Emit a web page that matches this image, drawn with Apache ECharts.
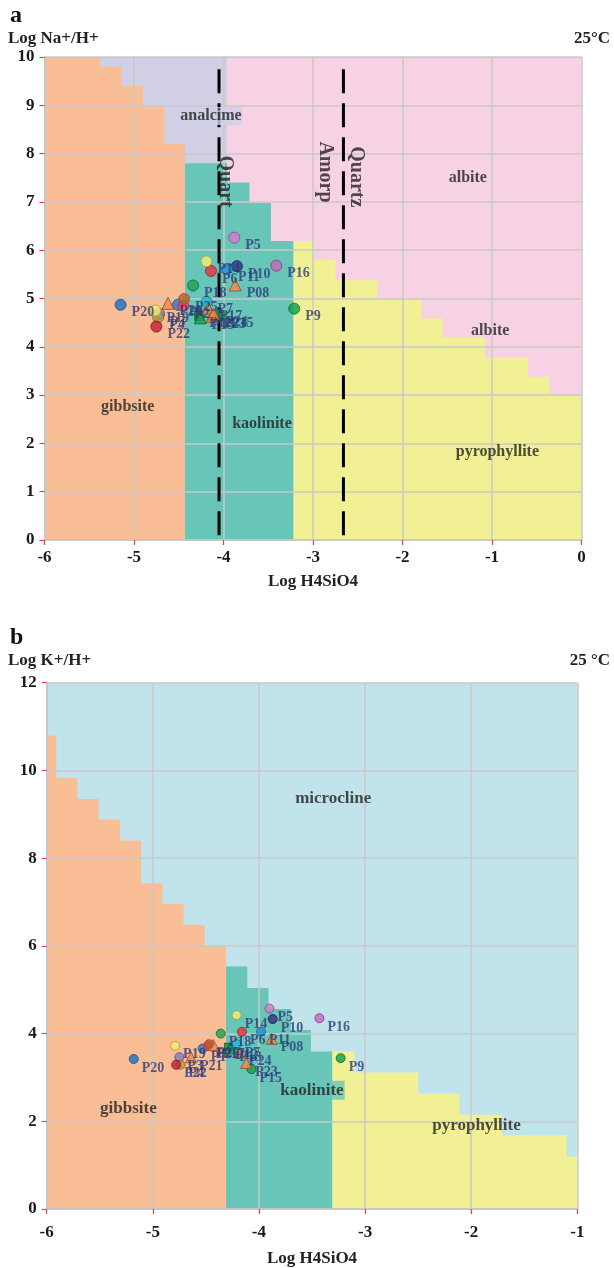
<!DOCTYPE html>
<html>
<head>
<meta charset="utf-8">
<script src="https://cdn.jsdelivr.net/npm/echarts@6/dist/echarts.min.js"></script>
<style>
  html, body { margin: 0; padding: 0; background: #ffffff; }
  #chart { width: 614px; height: 1268px; }
</style>
</head>
<body>
<div id="chart"></div>
<script>
// ---- Samples (same order in both diagrams) ----
const sampleNames = ['P1','P2','P3','P4','P5','P6','P7','P08','P9','P10','P11','P12','P13',
  'P14','P15','P16','P17','P18','P19','P20','P21','P22','P23','P24','P25'];

// Diagram a: Log H4SiO4 vs Log Na+/H+
const naLogSi  = [-4.51,-4.45,-4.72,-4.73,-3.88,-4.14,-4.19,-3.87,-3.21,-3.85,-3.96,-4.27,-4.26,
  -4.19,-4.04,-3.41,-4.17,-4.34,-4.76,-5.15,-4.62,-4.75,-4.13,-4.11,-4.44];
const naLogNaH = [ 4.87, 4.84, 4.68, 4.61, 6.26, 5.57, 4.93, 5.28, 4.79, 5.67, 5.61, 4.64, 4.60,
   5.77, 4.66, 5.68, 4.80, 5.27, 4.75, 4.87, 4.90, 4.42, 4.63, 4.68, 4.99];

// Diagram b: Log H4SiO4 vs Log K+/H+
const kLogSi = [-4.53,-4.48,-4.75,-4.74,-3.90,-4.16,-4.21,-3.88,-3.23,-3.87,-3.98,-4.29,-4.27,
  -4.21,-4.07,-3.43,-4.43,-4.36,-4.79,-5.18,-4.64,-4.78,-4.12,-4.18,-4.47];
const kLogKH = [ 3.66, 3.72, 3.46, 3.29, 4.57, 4.04, 3.76, 3.88, 3.44, 4.33, 4.04, 3.70, 3.66,
   4.42, 3.19, 4.35, 3.74, 4.00, 3.72, 3.42, 3.46, 3.29, 3.33, 3.57, 3.76];

// Marker look per sample
const markerShape = ['circle','circle','circle','circle','circle','circle','circle','triangle','circle','circle','circle','rect','triangle',
  'circle','circle','circle','triangle','circle','circle','circle','triangle','circle','triangle','triangle','circle'];
const markerFill = ['#2878c8','#f0406a','#8a78c6','#a8a040','#d27ac8','#e8323c','#22b4d0','#f08a4a','#0aa04a','#34307e','#1c90d2','#1a8a3a','#1aa050',
  '#f4ef70','#10a04a','#c466ba','#f08a4a','#1ea050','#f4ef70','#1d6fc0','#f08a4a','#c81e3a','#f08a4a','#f08a4a','#a0642a'];
const markerEdge = ['#1a4f8a','#c02040','#5a4a96','#6a6420','#9a3d96','#a01820','#14809a','#a04418','#066a30','#181550','#10608e','#0a4a1a','#0a6030',
  '#a89a30','#06602a','#8a3284','#a04418','#0a6a30','#a89a30','#104a8a','#a04418','#80101e','#a04418','#a04418','#e03030'];

// ---- Phase boundaries, diagram a (upper edge of each field, stepwise) ----
const naAlbiteTop       = [[-6, 10], [0, 10]];
const naAnalcimeTop     = [[-6, 10], [-3.96, 10]];
const naPyrophylliteTop = [[-3.22, 6.19], [-2.99, 5.80], [-2.75, 5.38], [-2.28, 4.99], [-1.79, 4.59],
  [-1.55, 4.20], [-1.08, 3.78], [-0.60, 3.38], [-0.36, 2.99], [0, 2.99]];
const naKaoliniteTop    = [[-4.43, 7.80], [-3.96, 7.40], [-3.71, 6.98], [-3.47, 6.19], [-3.22, 6.19]];
const naGibbsiteTop     = [[-6, 10], [-5.38, 9.80], [-5.14, 9.40], [-4.90, 8.99], [-4.66, 8.20], [-4.43, 8.20]];
const naQuartzLine      = [[-4.05, 0.1], [-4.05, 9.87]];
const naAmorphLine      = [[-2.66, 0.1], [-2.66, 9.87]];

// ---- Phase boundaries, diagram b ----
const kMicroclineTop    = [[-6, 12], [-1, 12]];
const kPyrophylliteTop  = [[-3.31, 3.59], [-3.10, 3.11], [-2.50, 2.63], [-2.11, 2.15], [-1.71, 1.68], [-1.10, 1.19], [-1.0, 1.19]];
const kKaoliniteTop     = [[-4.31, 5.53], [-4.11, 5.04], [-3.91, 4.56], [-3.70, 4.08], [-3.51, 3.59], [-3.31, 3.59]];
const kGibbsiteTop      = [[-6, 10.8], [-5.91, 9.83], [-5.71, 9.35], [-5.51, 8.88], [-5.31, 8.40], [-5.11, 7.43],
  [-4.91, 6.96], [-4.71, 6.48], [-4.51, 6.00], [-4.31, 6.00]];

// Field names and where they sit
const naFieldLabels = [['analcime', -4.14, 8.78], ['albite', -1.27, 7.49], ['albite', -1.02, 4.33],
  ['gibbsite', -5.07, 2.75], ['kaolinite', -3.57, 2.40], ['pyrophyllite', -0.94, 1.82]];
const naSilicaLabels = [['Quart', -3.98, 7.42], ['Amorp', -2.86, 7.62], ['Quartz', -2.52, 7.52]];
const kFieldLabels = [['microcline', -3.30, 9.35], ['gibbsite', -5.23, 2.30],
  ['kaolinite', -3.50, 2.71], ['pyrophyllite', -1.95, 1.90]];

const COLORS = {
  gibbsite: '#f9be95', analcime: '#d0cfe6', albite: '#f7d2e4', kaolinite: '#68c6b9',
  pyrophyllite: '#f2f094', microcline: '#c1e4ec'
};
const FONT = 'Liberation Serif, Times New Roman, serif';

function field(name, data, color, idx) {
  return {
    name: name, type: 'line', step: 'end', data: data,
    xAxisIndex: idx, yAxisIndex: idx, symbol: 'none', silent: true, z: 1,
    lineStyle: { width: 0, opacity: 0 },
    areaStyle: { color: color, opacity: 1 }
  };
}

function silicaLine(data) {
  return {
    type: 'line', data: data, xAxisIndex: 0, yAxisIndex: 0, symbol: 'none', silent: true, z: 4,
    lineStyle: { color: '#000', width: 3, type: [24, 10] }
  };
}

function fieldLabelSeries(items, idx, size, bgByName) {
  return {
    type: 'scatter', xAxisIndex: idx, yAxisIndex: idx, silent: true, z: 5,
    symbolSize: 0,
    data: items.map(d => ({
      name: d[0], value: [d[1], d[2]],
      label: { backgroundColor: bgByName[d[0]] || 'transparent' }
    })),
    itemStyle: { color: 'transparent' },
    label: {
      show: true, position: 'inside', formatter: '{b}',
      fontFamily: FONT, fontWeight: 'bold', fontSize: size, color: '#222', padding: [1, 1]
    }
  };
}

function samples(xs, ys, idx, circleSize, triSize, fontSize, dist, dy) {
  return {
    type: 'scatter', xAxisIndex: idx, yAxisIndex: idx, z: 6,
    data: sampleNames.map((n, i) => ({
      name: n, value: [xs[i], ys[i]], symbol: markerShape[i],
      symbolSize: markerShape[i] === 'circle' ? circleSize : (markerShape[i] === 'rect' ? circleSize - 2 : triSize),
      itemStyle: { color: markerFill[i], borderColor: markerEdge[i], borderWidth: 1 }
    })),
    label: {
      show: true, position: 'right', distance: dist, offset: [0, dy], formatter: '{b}',
      fontFamily: FONT, fontWeight: 'bold', fontSize: fontSize, color: '#2c3b78'
    }
  };
}

function xAxisCfg(idx, max, gap, margin) {
  return {
    type: 'value', gridIndex: idx, min: -6, max: max, interval: 1, z: 3,
    name: 'Log H4SiO4', nameLocation: 'middle', nameGap: gap,
    nameTextStyle: { fontFamily: FONT, fontWeight: 'bold', fontSize: 17, color: '#222' },
    axisLine: { show: true, onZero: false, lineStyle: { color: '#c4c4c4', width: 1.5 } },
    axisTick: { show: true, length: 5, lineStyle: { color: '#e84040', width: 1.2 } },
    axisLabel: { margin: margin, fontFamily: FONT, fontWeight: 'bold', fontSize: 17, color: '#1a1a1a' },
    splitLine: { show: true, lineStyle: { color: '#c8c8c8', width: 1.5 } }
  };
}

function yAxisCfg(idx, max, interval) {
  return {
    type: 'value', gridIndex: idx, min: 0, max: max, interval: interval, z: 3, position: 'left',
    axisLine: { show: true, onZero: false, lineStyle: { color: '#c4c4c4', width: 1.5 } },
    axisTick: { show: true, length: 5, lineStyle: { color: '#e84040', width: 1.2 } },
    axisLabel: { margin: 10, fontFamily: FONT, fontWeight: 'bold', fontSize: 17, color: '#1a1a1a' },
    splitLine: { show: true, lineStyle: { color: '#c8c8c8', width: 1.5 } }
  };
}

const chart = echarts.init(document.getElementById('chart'), null, { renderer: 'canvas' });

const option = {
  animation: false,
  backgroundColor: '#ffffff',
  grid: [
    { left: 44.5, top: 57, width: 537, height: 483 },
    { left: 46.7, top: 682.7, width: 530.6, height: 531.3 }
  ],
  xAxis: [xAxisCfg(0, 0, 33, 9), xAxisCfg(1, -1, 41, 15)],
  yAxis: [yAxisCfg(0, 10, 1), yAxisCfg(1, 12, 2)],
  graphic: [
    { type: 'text', left: 10, top: 4, style: { text: 'a', font: 'bold 24px ' + FONT, fill: '#111' } },
    { type: 'text', left: 8, top: 30, style: { text: 'Log Na+/H+', font: 'bold 17px ' + FONT, fill: '#222' } },
    { type: 'text', right: 4, top: 30, style: { text: '25°C', font: 'bold 17px ' + FONT, fill: '#222' } },
    { type: 'text', left: 10, top: 626, style: { text: 'b', font: 'bold 24px ' + FONT, fill: '#111' } },
    { type: 'text', left: 8, top: 652, style: { text: 'Log K+/H+', font: 'bold 17px ' + FONT, fill: '#222' } },
    { type: 'text', right: 4, top: 652, style: { text: '25 °C', font: 'bold 17px ' + FONT, fill: '#222' } }
  ],
  series: [
    // diagram a fields, painted back to front
    field('albite', naAlbiteTop, COLORS.albite, 0),
    field('analcime', naAnalcimeTop, COLORS.analcime, 0),
    field('pyrophyllite', naPyrophylliteTop, COLORS.pyrophyllite, 0),
    field('kaolinite', naKaoliniteTop, COLORS.kaolinite, 0),
    field('gibbsite', naGibbsiteTop, COLORS.gibbsite, 0),
    silicaLine(naQuartzLine),
    silicaLine(naAmorphLine),
    fieldLabelSeries(naFieldLabels, 0, 16, { analcime: COLORS.analcime }),
    {
      type: 'scatter', xAxisIndex: 0, yAxisIndex: 0, silent: true, z: 5, symbolSize: 0,
      data: naSilicaLabels.map(d => ({ name: d[0], value: [d[1], d[2]] })),
      itemStyle: { color: 'transparent' },
      label: { show: true, position: 'inside', formatter: '{b}', rotate: -90,
        fontFamily: FONT, fontWeight: 'bold', fontSize: 20, color: '#222' }
    },
    samples(naLogSi, naLogNaH, 0, 11, 12, 14, 5, 8),

    // diagram b fields
    field('microcline', kMicroclineTop, COLORS.microcline, 1),
    field('pyrophyllite', kPyrophylliteTop, COLORS.pyrophyllite, 1),
    field('kaolinite', kKaoliniteTop, COLORS.kaolinite, 1),
    field('gibbsite', kGibbsiteTop, COLORS.gibbsite, 1),
    fieldLabelSeries(kFieldLabels, 1, 17, { kaolinite: COLORS.kaolinite }),
    samples(kLogSi, kLogKH, 1, 9, 11, 14, 3, 9)
  ]
};

chart.setOption(option);
</script>
</body>
</html>
